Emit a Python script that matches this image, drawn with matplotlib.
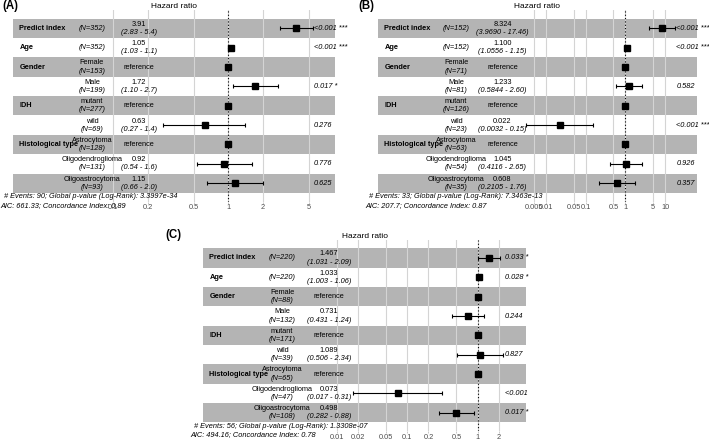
import numpy as np
import matplotlib
matplotlib.use("Agg")
import matplotlib.pyplot as plt
from matplotlib.patches import Rectangle
from matplotlib.ticker import NullLocator, FixedLocator

plt.rcParams['font.family'] = ['Liberation Sans', 'DejaVu Sans']

W, H = 709, 442

# rows (same covariates in all three models)
variables = ["Predict index", "Age", "Gender", "", "IDH", "", "Histological type", "", ""]
levels = ["", "", "Female", "Male", "mutant", "wild", "Astrocytoma", "Oligodendroglioma", "Oligoastrocytoma"]

# (A)
a_n = [352, 352, 153, 199, 277, 69, 128, 131, 93]
a_est = ["3.91", "1.05", "reference", "1.72", "reference", "0.63", "reference", "0.92", "1.15"]
a_low = ["2.83", "1.03", "", "1.10", "", "0.27", "", "0.54", "0.66"]
a_high = ["5.4", "1.1", "", "2.7", "", "1.4", "", "1.6", "2.0"]
a_p = ["<0.001 ***", "<0.001 ***", "", "0.017 *", "", "0.276", "", "0.776", "0.625"]
a_ticks = [0.1, 0.2, 0.5, 1, 2, 5]
a_foot = ["# Events: 90; Global p-value (Log-Rank): 3.3997e-34",
          "AIC: 661.33; Concordance Index: 0.89"]

# (B)
b_n = [152, 152, 71, 81, 126, 23, 63, 54, 35]
b_est = ["8.324", "1.100", "reference", "1.233", "reference", "0.022", "reference", "1.045", "0.608"]
b_low = ["3.9690", "1.0556", "", "0.5844", "", "0.0032", "", "0.4116", "0.2105"]
b_high = ["17.46", "1.15", "", "2.60", "", "0.15", "", "2.65", "1.76"]
b_p = ["<0.001 ***", "<0.001 ***", "", "0.582", "", "<0.001 ***", "", "0.926", "0.357"]
b_ticks = [0.005, 0.01, 0.05, 0.1, 0.5, 1, 5, 10]
b_foot = ["# Events: 33; Global p-value (Log-Rank): 7.3463e-13",
          "AIC: 207.7; Concordance Index: 0.87"]

# (C)
c_n = [220, 220, 88, 132, 171, 39, 65, 47, 108]
c_est = ["1.467", "1.033", "reference", "0.731", "reference", "1.089", "reference", "0.073", "0.498"]
c_low = ["1.031", "1.003", "", "0.431", "", "0.506", "", "0.017", "0.282"]
c_high = ["2.09", "1.06", "", "1.24", "", "2.34", "", "0.31", "0.88"]
c_p = ["0.033 *", "0.028 *", "", "0.244", "", "0.827", "", "<0.001 ***", "0.017 *"]
c_ticks = [0.01, 0.02, 0.05, 0.1, 0.2, 0.5, 1, 2]
c_foot = ["# Events: 56; Global p-value (Log-Rank): 1.3308e-07",
          "AIC: 494.16; Concordance Index: 0.78"]

fs = 5.3
band_col = "#b4b4b4"
grid_col = "#d4d4d4"

fig = plt.figure(figsize=(W / 100, H / 100), dpi=100)


def forest(left, right, top, rh, n, est, low, high, pv, ticks, foot, clip_x=None):
    rows = np.arange(1, len(est) + 1)
    est_v = np.array([1.0 if e == "reference" else float(e) for e in est])
    lo_v = np.array([float(v) if v else np.nan for v in low])
    hi_v = np.array([float(v) if v else np.nan for v in high])

    # ggforest layout: plot twice as wide as the CI range, plus room for p-values
    rb = np.log10([np.nanmin(lo_v), np.nanmax(hi_v)])
    d = rb[1] - rb[0]
    rp = np.array([rb[0] - d, rb[1] + 0.15 * d])
    wd = rp[1] - rp[0]

    bw = right - left
    ax_l = left - 0.02 * bw
    ax_w = bw * 1.04
    ax_t = top - 0.45 * rh
    ax_h = 9.9 * rh
    ax = fig.add_axes([ax_l / W, 1 - (ax_t + ax_h) / H, ax_w / W, ax_h / H])
    ax.set_xscale("log")
    ax.set_xlim(10 ** (rp[0] - 0.02 * wd), 10 ** (rp[1] + 0.02 * wd))
    ax.set_ylim(len(est) + 0.95, 0.05)

    # alternating bands
    odd = rows[::2]
    ax.barh(odd, 10 ** rp[1] - 10 ** rp[0], left=10 ** rp[0], height=1.0,
            color=band_col, zorder=1)

    ax.xaxis.set_major_locator(FixedLocator(ticks))
    ax.xaxis.set_minor_locator(NullLocator())
    ax.set_xticklabels(["%g" % t for t in ticks])
    ax.set_axisbelow(False)
    ax.grid(axis="x", color=grid_col, lw=0.8, zorder=1.5)
    ax.grid(axis="y", visible=False)
    ax.tick_params(axis="x", labelsize=fs, colors="#4d4d4d", length=1.5, width=0.5, pad=0.5)
    ax.tick_params(axis="x", color="#b3b3b3")
    ax.set_yticks([])
    for s in ax.spines.values():
        s.set_visible(False)
    ax.set_title("Hazard ratio", fontsize=6, pad=1.5)

    ax.axvline(1, color="black", ls=(0, (1, 2)), lw=0.8, zorder=3)

    m = ~np.isnan(lo_v)
    ax.errorbar(est_v[m], rows[m], xerr=[est_v[m] - lo_v[m], hi_v[m] - est_v[m]],
                fmt="none", ecolor="black", elinewidth=0.8, capsize=1.6,
                capthick=0.8, zorder=4)
    ax.plot(est_v, rows, "s", color="black", ms=3.8, zorder=5)

    x_var = 10 ** (rp[0] + 0.02 * wd)
    x_lev = 10 ** (rp[0] + 0.245 * wd)
    x_ci = 10 ** (rp[0] + 0.39 * wd)
    x_p = 10 ** (rb[1] + 0.01 * d)
    for i, r in enumerate(rows):
        ax.text(x_var, r, variables[i], fontsize=fs, fontweight="bold", ha="left", va="center")
        if levels[i]:
            ax.text(x_lev, r - 0.03, levels[i], fontsize=fs, ha="center", va="bottom")
            ax.text(x_lev, r + 0.03, "(N=%d)" % n[i], fontsize=fs, style="italic",
                    ha="center", va="top")
        else:
            ax.text(x_lev, r, "(N=%d)" % n[i], fontsize=fs, style="italic",
                    ha="center", va="center")
        if est[i] == "reference":
            ax.text(x_ci, r, "reference", fontsize=fs, ha="center", va="center")
        else:
            ax.text(x_ci, r - 0.03, est[i], fontsize=fs, ha="center", va="bottom")
            ax.text(x_ci, r + 0.03, "(%s - %s)" % (low[i], high[i]), fontsize=fs,
                    style="italic", ha="center", va="top")
        if pv[i]:
            t = ax.text(x_p, r, pv[i], fontsize=fs, style="italic", ha="left", va="center")
            if clip_x is not None:
                t.set_clip_on(True)
                t.set_clip_path(Rectangle((0, 0), clip_x / W, 1, transform=fig.transFigure))

    bb = top + 9 * rh
    fig.text((left - 9) / W, 1 - (bb + 4.0) / H, foot[0], fontsize=fs, style="italic",
             ha="left", va="center")
    fig.text((left - 13) / W, 1 - (bb + 12.5) / H, foot[1], fontsize=fs, style="italic",
             ha="left", va="center")
    return ax


forest(13, 335, 18.7, 19.35, a_n, a_est, a_low, a_high, a_p, a_ticks, a_foot)
forest(378, 697, 18.7, 19.35, b_n, b_est, b_low, b_high, b_p, b_ticks, b_foot)
forest(203, 526, 248.3, 19.35, c_n, c_est, c_low, c_high, c_p, c_ticks, c_foot, clip_x=530)

fig.text(2 / W, 1 - 6.5 / H, "(A)", fontsize=8.3, fontweight="bold", ha="left", va="center")
fig.text(358 / W, 1 - 6.5 / H, "(B)", fontsize=8.3, fontweight="bold", ha="left", va="center")
fig.text(165 / W, 1 - 235 / H, "(C)", fontsize=8.3, fontweight="bold", ha="left", va="center")

fig.savefig("out.png", dpi=100)
